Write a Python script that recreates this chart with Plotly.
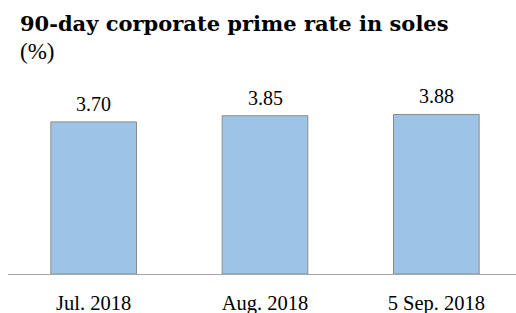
import plotly.graph_objects as go

categories = ["Jul. 2018", "Aug. 2018", "5 Sep. 2018"]
values = [3.70, 3.85, 3.88]
value_labels = ["3.70", "3.85", "3.88"]
title_text = "90-day corporate prime rate in soles"
subtitle_text = "(%)"

FONT = "Liberation Serif"
TITLE_FONT = "DejaVu Serif"
W, H = 516, 313
L, R, T, B = 8, 0, 89, 39
plot_h = H - T - B


def py(ypx):
    return (H - B - ypx) / plot_h


def px(xpx):
    return (xpx - L) / (W - L - R)


fig = go.Figure()
fig.add_trace(go.Bar(
    x=categories,
    y=values,
    marker=dict(color="#9DC3E6", line=dict(color="#8C8C8C", width=1)),
    width=0.5,
    hoverinfo="skip",
))

for c, v, t in zip(categories, values, value_labels):
    fig.add_annotation(x=c, y=v, xref="x", yref="y", text=t, showarrow=False,
                       yanchor="bottom", yshift=5,
                       font=dict(family=FONT, size=20, color="#000000"))

fig.add_annotation(text="<b>" + title_text + "</b>", xref="paper", yref="paper",
                   x=px(18), xanchor="left", y=py(23), yanchor="middle",
                   showarrow=False, font=dict(family=TITLE_FONT, size=21, color="#000000"))
fig.add_annotation(text=subtitle_text, xref="paper", yref="paper",
                   x=px(18), xanchor="left", y=py(51), yanchor="middle",
                   showarrow=False, font=dict(family=FONT, size=23, color="#000000"))

fig.update_layout(
    width=W, height=H,
    margin=dict(l=L, r=R, t=T, b=B, autoexpand=False),
    paper_bgcolor="white", plot_bgcolor="white",
    showlegend=False,
    font=dict(family=FONT, size=20, color="#000000"),
    xaxis=dict(
        range=[-0.5, 2.465],
        showline=True, linecolor="#A6A6A6", linewidth=1,
        ticks="", ticklabelstandoff=10,
        tickfont=dict(family=FONT, size=20.5, color="#000000"),
        showgrid=False, zeroline=False, fixedrange=True,
    ),
    yaxis=dict(range=[0, 4.5], visible=False, showgrid=False, zeroline=False, fixedrange=True),
)

fig.write_html("out.html", config={"displayModeBar": False},
               post_script="document.body.style.margin='0';")
